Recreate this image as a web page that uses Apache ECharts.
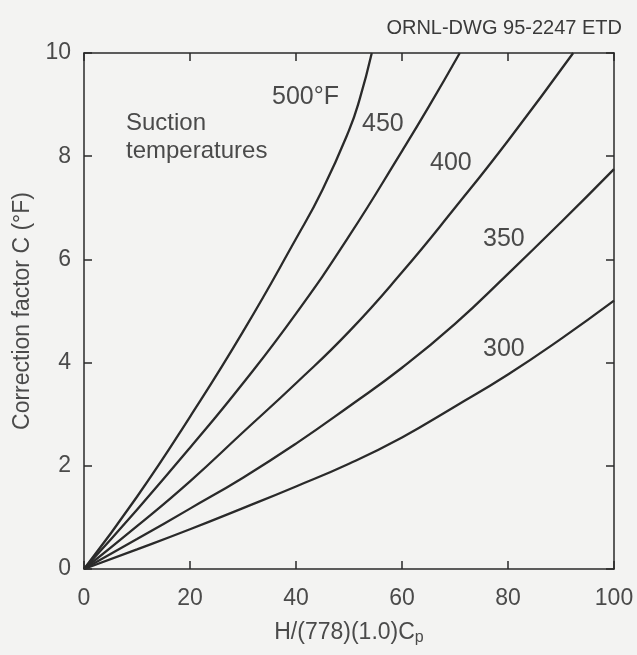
<!DOCTYPE html>
<html>
<head>
<meta charset="utf-8">
<script src="https://cdn.jsdelivr.net/npm/echarts@6/dist/echarts.min.js"></script>
<style>
  html, body { margin: 0; padding: 0; background: #f3f3f2; }
  #chart { width: 637px; height: 655px; }
</style>
</head>
<body>
<div id="chart"></div>
<script>
// Correction factor C (°F) versus H/(778)(1.0)Cp for several suction temperatures
const xTicks = [0, 20, 40, 60, 80, 100];
const yTicks = [0, 2, 4, 6, 8, 10];

const t500 = [[0,0],[10,1.4],[20,2.95],[30,4.6],[40,6.4],[45,7.35],[50,8.5],[52,9.1],[54.3,10]];
const t450 = [[0,0],[10,1.15],[20,2.35],[30,3.6],[40,4.95],[50,6.45],[60,8.1],[65,8.95],[70.9,10]];
const t400 = [[0,0],[10,0.83],[20,1.7],[30,2.65],[40,3.6],[50,4.6],[60,5.75],[70,7.0],[80,8.3],[92.3,10]];
const t350 = [[0,0],[10,0.58],[20,1.17],[30,1.77],[40,2.43],[50,3.15],[60,3.9],[70,4.75],[80,5.72],[90,6.72],[100,7.75]];
const t300 = [[0,0],[10,0.38],[20,0.77],[30,1.18],[40,1.6],[50,2.04],[60,2.55],[70,3.15],[80,3.77],[90,4.46],[100,5.2]];

const curveNames = ['500°F', '450', '400', '350', '300'];
const curveData = [t500, t450, t400, t350, t300];

const ink = '#2a2a2a';
const textInk = '#4a4a4a';
const font = 'Liberation Sans, Arial, Helvetica, sans-serif';

const chart = echarts.init(document.getElementById('chart'), null, { renderer: 'canvas' });

const tickCommon = { show: true, inside: true, length: 8, lineStyle: { color: ink, width: 1.5 } };
const frameLine = { show: true, onZero: false, lineStyle: { color: ink, width: 1.5 } };

chart.setOption({
  backgroundColor: '#f3f3f2',
  animation: false,
  grid: { left: 84, right: 23, top: 53, bottom: 86 },
  xAxis: [{
    type: 'value', min: 0, max: 100, interval: 20,
    axisLine: frameLine,
    axisTick: tickCommon,
    splitLine: { show: false },
    axisLabel: { color: textInk, fontFamily: font, fontSize: 23, margin: 18,
      formatter: v => xTicks.includes(v) ? String(v) : '' },
    name: '{a|H/(778)(1.0)C}{s|p}',
    nameLocation: 'middle', nameGap: 51,
    nameTextStyle: { rich: {
      a: { color: textInk, fontFamily: font, fontSize: 23 },
      s: { color: textInk, fontFamily: font, fontSize: 16, verticalAlign: 'bottom', padding: [10, 0, 0, 0] }
    } }
  }, {
    type: 'value', min: 0, max: 100, interval: 20, position: 'top',
    axisLine: frameLine,
    axisTick: tickCommon, axisLabel: { show: false }, splitLine: { show: false }
  }],
  yAxis: [{
    type: 'value', min: 0, max: 10, interval: 2,
    axisLine: frameLine,
    axisTick: tickCommon,
    splitLine: { show: false },
    axisLabel: { color: textInk, fontFamily: font, fontSize: 23, margin: 13,
      formatter: v => yTicks.includes(v) ? String(v) : '' },
    name: 'Correction factor C (°F)',
    nameLocation: 'middle', nameGap: 50, nameRotate: 90,
    nameTextStyle: { color: textInk, fontFamily: font, fontSize: 23 }
  }, {
    type: 'value', min: 0, max: 10, interval: 2, position: 'right',
    axisLine: frameLine,
    axisTick: tickCommon, axisLabel: { show: false }, splitLine: { show: false }
  }],
  series: curveData.map((d, i) => ({
    name: curveNames[i],
    type: 'line',
    data: d,
    smooth: 0.5,
    showSymbol: false,
    clip: true,
    lineStyle: { color: ink, width: 2.3 }
  })),
  graphic: [
    { type: 'text', right: 15, top: 18, style: { text: 'ORNL-DWG 95-2247 ETD', fill: '#3a3a3a', font: '20px ' + font } },
    { type: 'text', left: 126, top: 111, style: { text: 'Suction', fill: textInk, font: '24px ' + font } },
    { type: 'text', left: 126, top: 139, style: { text: 'temperatures', fill: textInk, font: '24px ' + font } },
    { type: 'text', left: 272, top: 85, style: { text: '500°F', fill: textInk, font: '25px ' + font } },
    { type: 'text', left: 362, top: 112, style: { text: '450', fill: textInk, font: '25px ' + font } },
    { type: 'text', left: 430, top: 151, style: { text: '400', fill: textInk, font: '25px ' + font } },
    { type: 'text', left: 483, top: 227, style: { text: '350', fill: textInk, font: '25px ' + font } },
    { type: 'text', left: 483, top: 337, style: { text: '300', fill: textInk, font: '25px ' + font } }
  ]
});
</script>
</body>
</html>
